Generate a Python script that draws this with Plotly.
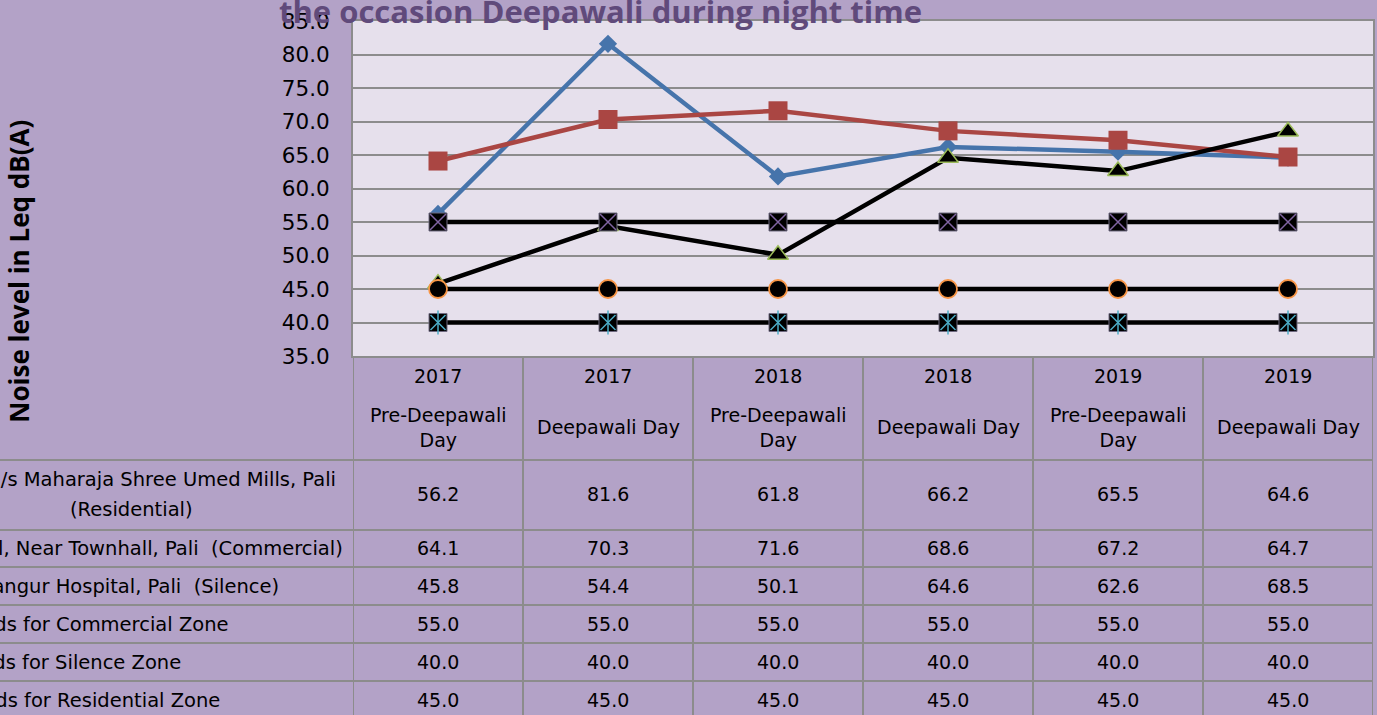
import plotly.graph_objects as go

# ---------------- data ----------------
years = ["2017", "2017", "2018", "2018", "2019", "2019"]
occasions = ["Pre-Deepawali<br>Day", "Deepawali Day", "Pre-Deepawali<br>Day",
             "Deepawali Day", "Pre-Deepawali<br>Day", "Deepawali Day"]

residential = [56.2, 81.6, 61.8, 66.2, 65.5, 64.6]
commercial = [64.1, 70.3, 71.6, 68.6, 67.2, 64.7]
silence = [45.8, 54.4, 50.1, 64.6, 62.6, 68.5]
std_commercial = [55.0, 55.0, 55.0, 55.0, 55.0, 55.0]
std_silence = [40.0, 40.0, 40.0, 40.0, 40.0, 40.0]
std_residential = [45.0, 45.0, 45.0, 45.0, 45.0, 45.0]

row_values = [residential, commercial, silence, std_commercial, std_silence, std_residential]

title_text = "the occasion Deepawali during night time"
y_title = "Noise level in Leq dB(A)"
y_ticks = [35, 40, 45, 50, 55, 60, 65, 70, 75, 80, 85]

# ---------------- layout geometry (pixels) ----------------
W, H = 1377, 715
L, R, T, B = 353, 1375, 21, 356

def fx(px):
    return (px - L) / (R - L)

def fy(py):
    return (B - py) / (B - T)

OUTER = "#B3A2C7"
PLOT_BG = "#E6E0EC"
GRID = "#8C8C8C"
FONT = "DejaVu Sans"

xs = list(range(len(years)))

fig = go.Figure()

# Series 1: residential (blue diamonds)
fig.add_trace(go.Scatter(x=xs, y=residential, mode="lines+markers",
                         line=dict(color="#4674AB", width=4.5),
                         marker=dict(symbol="diamond", size=14, color="#4674AB")))
# Series 2: commercial (red squares)
fig.add_trace(go.Scatter(x=xs, y=commercial, mode="lines+markers",
                         line=dict(color="#AA4643", width=4.5),
                         marker=dict(symbol="square", size=19, color="#AA4643")))
# Series 3: silence (black line, triangles)
fig.add_trace(go.Scatter(x=xs, y=silence, mode="lines+markers",
                         line=dict(color="black", width=4.5),
                         marker=dict(symbol="triangle-up", size=18, color="black",
                                     line=dict(color="#9BBB59", width=1.5))))
# Series 4: std commercial (black squares with purple x)
fig.add_trace(go.Scatter(x=xs, y=std_commercial, mode="lines+markers",
                         line=dict(color="black", width=4.5),
                         marker=dict(symbol="square", size=18, color="black",
                                     line=dict(color="#6F6A80", width=1))))
fig.add_trace(go.Scatter(x=xs, y=std_commercial, mode="markers",
                         marker=dict(symbol="x-thin-open", size=16, color="#8064A2",
                                     line=dict(color="#8064A2", width=1.5))))
# Series 5: std silence (black squares with cyan star)
fig.add_trace(go.Scatter(x=xs, y=std_silence, mode="lines+markers",
                         line=dict(color="black", width=4.5),
                         marker=dict(symbol="square", size=18, color="black",
                                     line=dict(color="#6F6A80", width=1))))
fig.add_trace(go.Scatter(x=xs, y=std_silence, mode="markers",
                         marker=dict(symbol="x-thin-open", size=15, color="#4BACC6",
                                     line=dict(color="#4BACC6", width=1.5))))
fig.add_trace(go.Scatter(x=xs, y=std_silence, mode="markers",
                         marker=dict(symbol="line-ns-open", size=17, color="#4BACC6",
                                     line=dict(color="#4BACC6", width=1.5))))
# Series 6: std residential (black circles with orange rim)
fig.add_trace(go.Scatter(x=xs, y=std_residential, mode="lines+markers",
                         line=dict(color="black", width=4.5),
                         marker=dict(symbol="circle", size=18, color="black",
                                     line=dict(color="#F79646", width=1.8))))

shapes = []
annotations = []

# table vertical lines
for i in range(len(years) + 1):
    shapes.append(dict(type="line", xref="x", yref="paper",
                       x0=i - 0.5, x1=i - 0.5, y0=fy(H + 5), y1=fy(B),
                       line=dict(color=GRID, width=2)))
# table horizontal lines
for py in [460, 530, 567, 605, 643, 681]:
    shapes.append(dict(type="line", xref="paper", yref="paper",
                       x0=fx(-5), x1=1, y0=fy(py), y1=fy(py),
                       line=dict(color=GRID, width=2)))

# header cells
for i in xs:
    annotations.append(dict(x=i, y=fy(376), xref="x", yref="paper", text=years[i],
                            showarrow=False, font=dict(family=FONT, size=19, color="black"),
                            xanchor="center", yanchor="middle"))
    annotations.append(dict(x=i, y=fy(427), xref="x", yref="paper", text=occasions[i],
                            showarrow=False, font=dict(family=FONT, size=19, color="black"),
                            xanchor="center", yanchor="middle", align="center"))

# value cells
row_centers = [494, 548, 586, 624, 662, 700]
for r, vals in enumerate(row_values):
    for i in xs:
        annotations.append(dict(x=i, y=fy(row_centers[r]), xref="x", yref="paper",
                                text=f"{vals[i]:.1f}", showarrow=False,
                                font=dict(family=FONT, size=19, color="black"),
                                xanchor="center", yanchor="middle"))

# row labels (clipped at the left edge as in the reference)
row_labels = [
    ("M/s Maharaja Shree Umed Mills, Pali", 338, 479, "right"),
    ("(Residential)", 131, 509, "center"),
    ("l, Near Townhall, Pali  (Commercial)", 345, 548, "right"),
    ("Bangur Hospital, Pali  (Silence)", 281, 586, "right"),
    ("Standards for Commercial Zone", 231, 624, "right"),
    ("Standards for Silence Zone", 183, 662, "right"),
    ("Standards for Residential Zone", 222, 700, "right"),
]
for text, px, py, anchor in row_labels:
    annotations.append(dict(x=fx(px), y=fy(py), xref="paper", yref="paper", text=text,
                            showarrow=False, font=dict(family=FONT, size=19.5, color="black"),
                            xanchor=anchor, yanchor="middle"))

# y-axis title
annotations.append(dict(x=fx(18), y=fy(271), xref="paper", yref="paper", text=f"<b>{y_title}</b>",
                        showarrow=False, textangle=-90,
                        font=dict(family="Open Sans", size=26, color="black"),
                        xanchor="center", yanchor="middle"))
# chart title (only last line visible)
annotations.append(dict(x=fx(601), y=fy(11), xref="paper", yref="paper", text=f"<b>{title_text}</b>",
                        showarrow=False,
                        font=dict(family="Open Sans", size=31, color="#604A7B"),
                        xanchor="center", yanchor="middle"))

fig.update_layout(
    width=W, height=H,
    margin=dict(l=L, r=W - R, t=T, b=H - B),
    paper_bgcolor=OUTER, plot_bgcolor=PLOT_BG,
    showlegend=False,
    shapes=shapes, annotations=annotations,
    xaxis=dict(range=[-0.5, 5.5], showticklabels=False, showgrid=False, zeroline=False,
               showline=True, linecolor=GRID, linewidth=2, mirror=True, fixedrange=True),
    yaxis=dict(range=[35, 85], tickvals=y_ticks, tickformat=".1f", showgrid=True,
               gridcolor=GRID, gridwidth=1.5, zeroline=False, showline=True, linecolor=GRID,
               linewidth=2, mirror=True, ticks="", ticklabelstandoff=17,
               tickfont=dict(family=FONT, size=21.5, color="black"), fixedrange=True),
)

fig.write_html("out.html", config={"displayModeBar": False},
               post_script="document.body.style.margin='0';document.body.style.overflow='hidden';")
